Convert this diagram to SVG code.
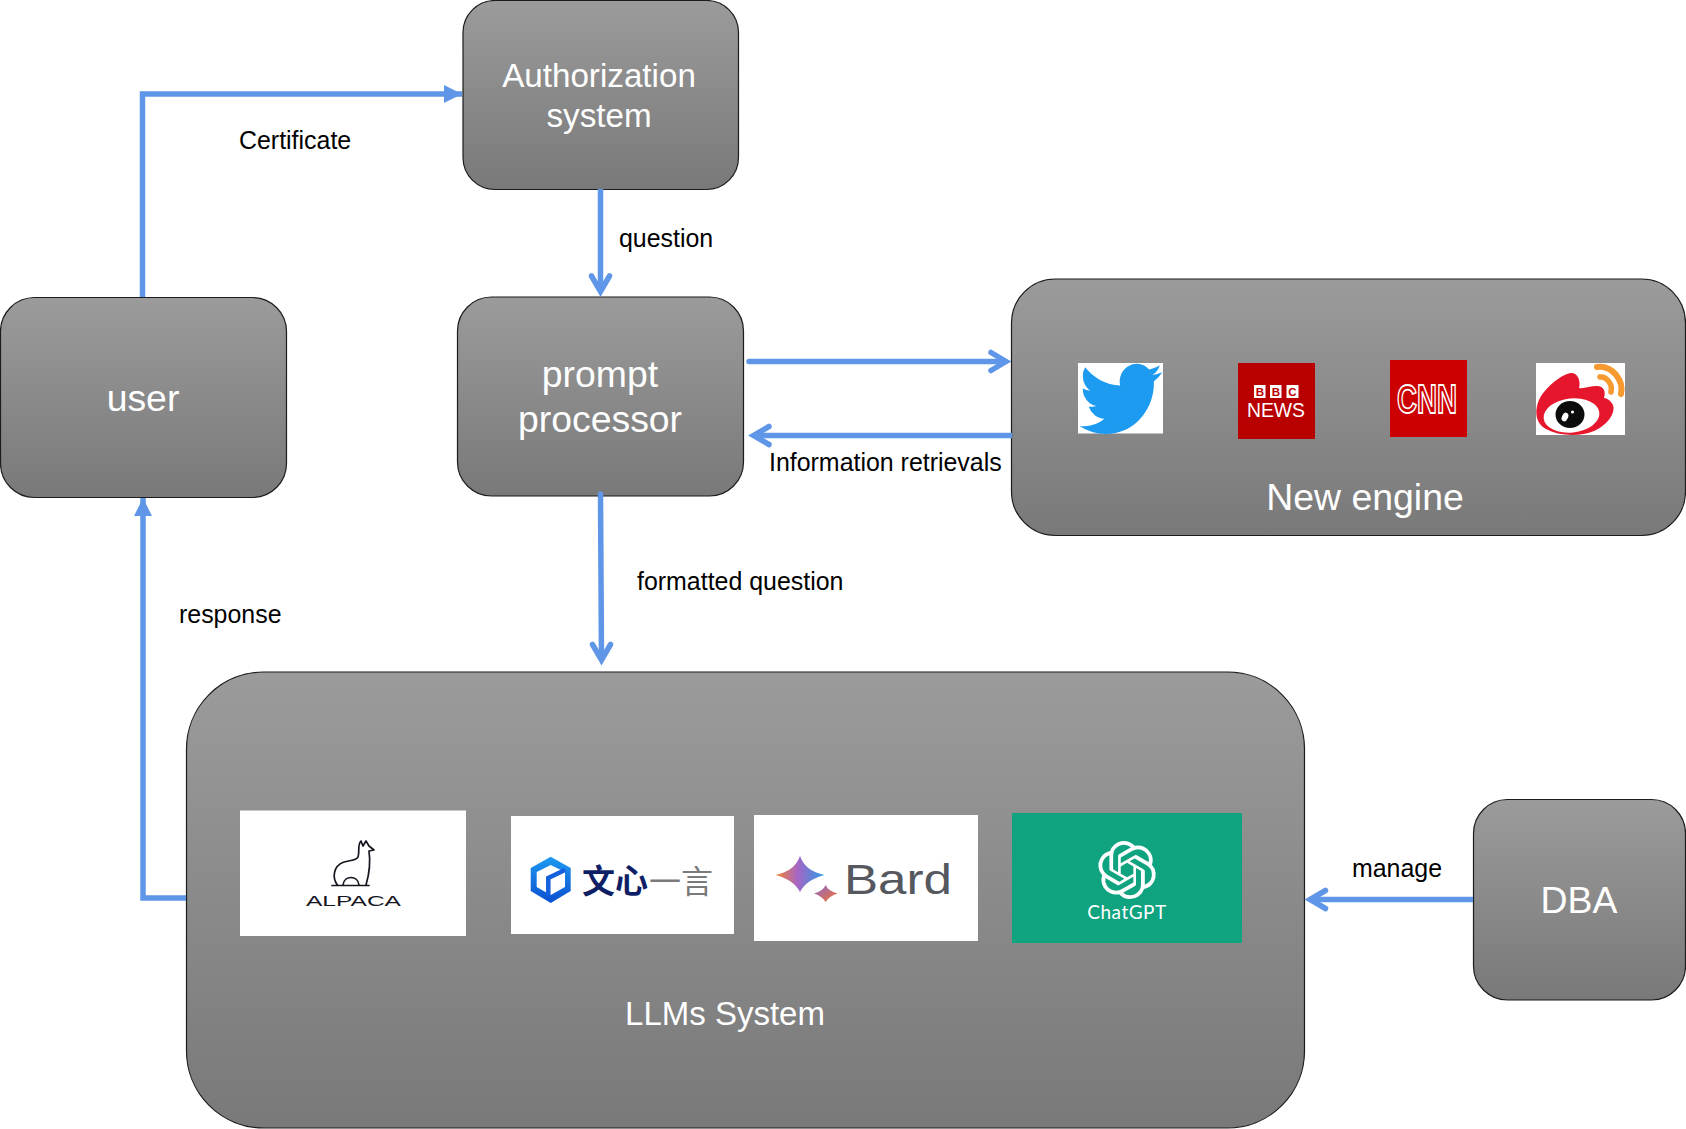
<svg xmlns="http://www.w3.org/2000/svg" width="1686" height="1129" viewBox="0 0 1686 1129">
<style>
.n{fill:url(#g);stroke:#1c1c1c;stroke-width:1.2}
.t{font-family:"Liberation Sans",Arial,sans-serif;fill:#fff;text-anchor:middle}
.s33{font-size:33.200px}.s37{font-size:37.400px}
.l{font-family:"Liberation Sans",Arial,sans-serif;font-size:24.930px;fill:#000}
.c{fill:none;stroke:#5f96e8;stroke-width:5.500}
.a{fill:none;stroke:#5f96e8;stroke-width:5.500;stroke-linecap:round;stroke-linejoin:miter}
.w{fill:#fff}
.bb{font-family:"Liberation Sans",sans-serif;font-weight:700;font-size:11.500px;fill:#b80000;text-anchor:middle}
</style>
<defs>
<linearGradient id="g" x1="0" y1="0" x2="0" y2="1"><stop offset="0" stop-color="#9b9b9b"/><stop offset="1" stop-color="#797979"/></linearGradient>
<linearGradient id="bard" x1="0" y1="0" x2="1" y2="0"><stop offset="0" stop-color="#f5822f"/><stop offset=".45" stop-color="#a566c4"/><stop offset="1" stop-color="#2a9be8"/></linearGradient>
<linearGradient id="bard2" x1="0" y1="0" x2="1" y2="1"><stop offset="0" stop-color="#8a6bd0"/><stop offset="1" stop-color="#f5702f"/></linearGradient>
<linearGradient id="hex" x1="0" y1="0" x2="0" y2="1"><stop offset="0" stop-color="#1e9af0"/><stop offset="1" stop-color="#0a4fd0"/></linearGradient>
<marker id="tri" markerUnits="userSpaceOnUse" markerWidth="20" markerHeight="20" refX="18" refY="9" orient="auto"><path d="M0 0L18 9L0 18Z" fill="#5f96e8"/></marker>
</defs>

<g id="authorization"><rect class="n" x="463" y="0.500" width="275.500" height="189" rx="32"/>
<text class="t s33" x="599" y="87">Authorization</text><text class="t s33" x="599" y="127">system</text></g>

<g id="prompt"><rect class="n" x="457.500" y="297" width="286" height="199" rx="34"/>
<text class="t s37" x="600" y="387">prompt</text><text class="t s37" x="600" y="432">processor</text></g>

<g id="user"><rect class="n" x="0.500" y="297.500" width="286" height="200" rx="34"/>
<text class="t s37" x="143" y="411">user</text></g>

<g id="engine"><rect class="n" x="1011.500" y="279" width="674" height="256.500" rx="44"/>
<text class="t s37" x="1365" y="510">New engine</text>
<g id="twitter"><rect class="w" x="1078" y="363" width="85" height="70.500"/>
<path transform="translate(1079.500 355.800) scale(3.450 3.590)" fill="#1d9bf0" d="M23.953 4.57a10 10 0 01-2.825.775 4.958 4.958 0 002.163-2.723c-.951.555-2.005.959-3.127 1.184a4.92 4.92 0 00-8.384 4.482C7.69 8.095 4.067 6.13 1.64 3.162a4.822 4.822 0 00-.666 2.475c0 1.71.87 3.213 2.188 4.096a4.904 4.904 0 01-2.228-.616v.06a4.923 4.923 0 003.946 4.827 4.996 4.996 0 01-2.212.085 4.936 4.936 0 004.604 3.417 9.867 9.867 0 01-6.102 2.105c-.39 0-.779-.023-1.17-.067a13.995 13.995 0 007.557 2.209c9.053 0 13.998-7.496 13.998-13.985 0-.21 0-.42-.015-.63A9.935 9.935 0 0024 4.59z"/></g>
<g id="bbc"><rect x="1238" y="363" width="77" height="76" fill="#b80000"/>
<rect class="w" x="1254" y="385" width="11.500" height="13"/><rect class="w" x="1270" y="385" width="11.500" height="13"/><rect class="w" x="1286.500" y="385" width="12" height="13"/>
<text class="bb" x="1259.800" y="395.700">B</text><text class="bb" x="1275.800" y="395.700">B</text><text class="bb" x="1292.500" y="395.700">C</text>
<text x="1247" y="417" font-family="Liberation Sans,sans-serif" font-size="20" textLength="58" lengthAdjust="spacingAndGlyphs" fill="#fff">NEWS</text></g>
<g id="cnn"><rect x="1390" y="360" width="77" height="77" fill="#cc0000"/>
<text x="1397" y="412.500" font-family="Liberation Sans,sans-serif" font-weight="700" font-size="40" textLength="60" lengthAdjust="spacingAndGlyphs" fill="none" stroke="#fff" stroke-width="1.800">CNN</text></g>
<g id="weibo"><rect class="w" x="1536" y="363" width="89" height="72"/>
<path fill="#e6162d" d="M1572 373C1566 372 1552 382 1544 392C1534 404 1533 422 1546 429C1558 436 1580 437 1594 431C1606 426 1616 414 1613 405C1611 401 1607 398 1604 398C1606 392 1604 386 1597 386C1590 386 1584 389 1579 388C1581 382 1578 373 1572 373Z"/>
<ellipse class="w" cx="1571.500" cy="415.500" rx="28" ry="17" transform="rotate(-6 1571.500 415.500)"/>
<ellipse cx="1570" cy="414.500" rx="14.500" ry="13.500" fill="#0c0c0c"/>
<ellipse class="w" cx="1565" cy="417" rx="3" ry="4.500" transform="rotate(25 1565 417)"/>
<circle class="w" cx="1572.500" cy="412" r="1.600"/>
<path fill="none" stroke="#f69a30" stroke-width="6" stroke-linecap="round" d="M1597 367C1612 365 1624 380 1621 394"/>
<path fill="none" stroke="#f69a30" stroke-width="5.500" stroke-linecap="round" d="M1600 377C1606 376 1613 384 1611 392"/></g>
</g>

<g id="llms"><rect class="n" x="186.500" y="672" width="1118" height="456" rx="77"/>
<text class="t" font-size="33" x="725" y="1025">LLMs System</text>
<g id="alpaca"><rect class="w" x="240" y="810.500" width="226" height="125.500"/>
<path fill="none" stroke="#15151f" stroke-width="1.700" stroke-linejoin="round" stroke-linecap="round" d="M337.500 885C332 878 333 866 344 862C352 860 357 860 358 857C360 852 357 845 361 841L363 846L366 841L369 846L374 850L369 851C370 858 371 868 366 885M343 885C344 875 358 875 359 885M332 885.500H369"/>
<text x="306" y="906" font-family="Liberation Sans,sans-serif" font-size="15" textLength="95" lengthAdjust="spacingAndGlyphs" fill="#15151f">ALPACA</text></g>
<g id="wenxin"><rect class="w" x="511" y="816" width="223" height="118"/>
<path fill="url(#hex)" d="M550.700 856.700L570.700 868V891L550.700 903L530.700 891V868Z"/>
<path fill="#fff" d="M550.700 865L565 872V887L550.700 895L536.700 887V872Z"/>
<path fill="none" stroke="#1560dc" stroke-width="4.500" d="M548.300 896V878L565 870"/>
<text x="582" y="893" font-family="Noto Sans CJK SC,sans-serif" font-weight="700" font-size="33" fill="#0f1f66">文心</text>
<text x="649" y="893" font-family="Noto Sans CJK SC,sans-serif" font-size="32" fill="#7a7a7a">一言</text></g>
<g id="bard-logo"><rect class="w" x="754" y="815" width="224" height="126"/>
<path fill="url(#bard)" d="M800 855.700Q805 871 824.500 875Q806 880 800 892Q794 880 775.500 875Q795 871 800 855.700Z"/>
<path fill="url(#bard2)" d="M825.700 885Q828 891 837.500 893.500Q829 896 825.700 902Q822 896 814 893.500Q823 891 825.700 885Z"/>
<text x="844" y="893.500" font-family="Liberation Sans,sans-serif" font-size="42" textLength="108" lengthAdjust="spacingAndGlyphs" fill="#55585e">Bard</text></g>
<g id="chatgpt"><rect x="1012" y="813" width="230" height="130" fill="#10a37f"/>
<path transform="translate(1098 841) scale(2.420)" fill="#fff" d="M22.2819 9.8211a5.9847 5.9847 0 0 0-.5157-4.9108 6.0462 6.0462 0 0 0-6.5098-2.9A6.0651 6.0651 0 0 0 4.9807 4.1818a5.9847 5.9847 0 0 0-3.9977 2.9 6.0462 6.0462 0 0 0 .7427 7.0966 5.98 5.98 0 0 0 .511 4.9107 6.051 6.051 0 0 0 6.5146 2.9001A5.9847 5.9847 0 0 0 13.2599 24a6.0557 6.0557 0 0 0 5.7718-4.2058 5.9894 5.9894 0 0 0 3.9977-2.9001 6.0557 6.0557 0 0 0-.7475-7.0729zm-9.022 12.6081a4.4755 4.4755 0 0 1-2.8764-1.0408l.1419-.0804 4.7783-2.7582a.7948.7948 0 0 0 .3927-.6813v-6.7369l2.02 1.1686a.071.071 0 0 1 .038.052v5.5826a4.504 4.504 0 0 1-4.4945 4.4944zm-9.6607-4.1254a4.4708 4.4708 0 0 1-.5346-3.0137l.142.0852 4.783 2.7582a.7712.7712 0 0 0 .7806 0l5.8428-3.3685v2.3324a.0804.0804 0 0 1-.0332.0615L9.74 19.9502a4.4992 4.4992 0 0 1-6.1408-1.6464zM2.3408 7.8956a4.485 4.485 0 0 1 2.3655-1.9728V11.6a.7664.7664 0 0 0 .3879.6765l5.8144 3.3543-2.0201 1.1685a.0757.0757 0 0 1-.071 0l-4.8303-2.7865A4.504 4.504 0 0 1 2.3408 7.872zm16.5963 3.8558L13.1038 8.364 15.1192 7.2a.0757.0757 0 0 1 .071 0l4.8303 2.7913a4.4944 4.4944 0 0 1-.6765 8.1042v-5.6772a.79.79 0 0 0-.407-.667zm2.0107-3.0231l-.142-.0852-4.7735-2.7818a.7759.7759 0 0 0-.7854 0L9.409 9.2297V6.8974a.0662.0662 0 0 1 .0284-.0615l4.8303-2.7866a4.4992 4.4992 0 0 1 6.6802 4.66zM8.3065 12.863l-2.02-1.1638a.0804.0804 0 0 1-.038-.0567V6.0742a4.4992 4.4992 0 0 1 7.3757-3.4537l-.142.0805L8.704 5.459a.7948.7948 0 0 0-.3927.6813zm1.0976-2.3654l2.602-1.4998 2.6069 1.4998v2.9994l-2.5974 1.4997-2.6067-1.4997Z"/>
<text x="1127" y="919" text-anchor="middle" font-family="Lato,Liberation Sans,sans-serif" font-size="19" letter-spacing=".5" fill="#fff">ChatGPT</text></g>
</g>

<g id="dba"><rect class="n" x="1473.500" y="799.500" width="212" height="200.500" rx="34"/>
<text class="t s37" x="1579" y="913">DBA</text></g>

<g id="connectors">
<path class="c" d="M142.500 297V94H462" marker-end="url(#tri)"/>
<path class="c" d="M186 898H143V498" marker-end="url(#tri)"/>
<path class="c" d="M600.500 189V291"/><path class="a" d="M591.500 276L600.500 291.500L609.500 276"/>
<path class="a" d="M749 361.500H1005"/><path class="a" d="M991 352.500L1006 361.500L991 370.500"/>
<path class="c" d="M1012 435.500H754"/><path class="a" d="M769 426.500L753.500 435.500L769 444.500"/>
<path class="a" d="M600.500 494L601.500 659"/><path class="a" d="M592.500 644.500L601.500 660L610.500 644.500"/>
<path class="c" d="M1473 899.500H1311"/><path class="a" d="M1325.500 890.500L1310 899.500L1325.500 908.500"/>
</g>

<g id="labels">
<text class="l" x="239" y="149">Certificate</text>
<text class="l" x="619" y="247">question</text>
<text class="l" x="769" y="471">Information retrievals</text>
<text class="l" x="637" y="590">formatted question</text>
<text class="l" x="179" y="623">response</text>
<text class="l" x="1352" y="877">manage</text>
</g>
</svg>
